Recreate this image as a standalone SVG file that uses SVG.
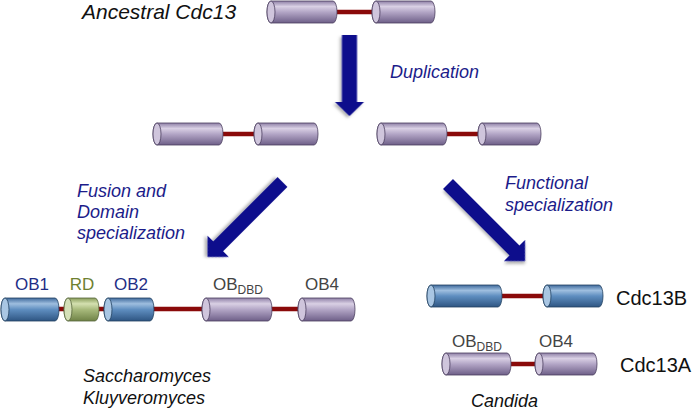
<svg xmlns="http://www.w3.org/2000/svg" width="693" height="411" viewBox="0 0 693 411">
<defs>
<linearGradient id="gP" x1="0" y1="0" x2="0" y2="1">
<stop offset="0" stop-color="#8E7FA6"/><stop offset="0.25" stop-color="#D9D0E4"/><stop offset="0.5" stop-color="#B3A6C6"/><stop offset="1" stop-color="#6E5F88"/>
</linearGradient>
<linearGradient id="gB" x1="0" y1="0" x2="0" y2="1">
<stop offset="0" stop-color="#3F6A9C"/><stop offset="0.25" stop-color="#9EBEDF"/><stop offset="0.5" stop-color="#5F8EC0"/><stop offset="1" stop-color="#2E5582"/>
</linearGradient>
<linearGradient id="gG" x1="0" y1="0" x2="0" y2="1">
<stop offset="0" stop-color="#889C5A"/><stop offset="0.25" stop-color="#D4E0B0"/><stop offset="0.5" stop-color="#A8BA7C"/><stop offset="1" stop-color="#6F8246"/>
</linearGradient>
<filter id="sh" x="-20%" y="-20%" width="140%" height="140%"><feDropShadow dx="2" dy="2" stdDeviation="1.5" flood-color="#000" flood-opacity="0.3"/></filter>
</defs>
<style>
.p{fill:url(#gP);stroke:#4A3E5E;stroke-width:0.8}
.pc{fill:#CFC5DC;stroke:#4A3E5E;stroke-width:0.8}
.b{fill:url(#gB);stroke:#21405F;stroke-width:0.8}
.bc{fill:#A9C6E3;stroke:#21405F;stroke-width:0.8}
.g{fill:url(#gG);stroke:#55653A;stroke-width:0.8}
.gc{fill:#D5E0B8;stroke:#55653A;stroke-width:0.8}
.lk{stroke:#8A0A0A;stroke-width:4.5;fill:none}
.ar{fill:#0A0A8C;filter:url(#sh)}
.it{font-family:"Liberation Sans",Arial,sans-serif;font-style:italic;font-size:18px}
.big{font-size:21px}
.nv{fill:#1C1C8A}
.k{fill:#111}
.lb{font-family:"Liberation Sans",Arial,sans-serif;font-size:17px}
.sub{font-size:12px}
.ob{fill:#1F2E86}
.rd{fill:#6E8030}
.gy{fill:#444}
.cd{font-family:"Liberation Sans",Arial,sans-serif;font-size:20px;fill:#111}
</style>

<g id="ancestral">
<line class="lk" x1="337" y1="12" x2="372" y2="12"/>
<path class="p" d="M271,1 H333 A4,11 0 0 1 333,23 H271 A4,11 0 0 1 271,1 Z"/><ellipse class="pc" cx="271" cy="12" rx="4" ry="11"/>
<path class="p" d="M376,1 H431 A4,11 0 0 1 431,23 H376 A4,11 0 0 1 376,1 Z"/><ellipse class="pc" cx="376" cy="12" rx="4" ry="11"/>
</g>

<g id="dup-left">
<line class="lk" x1="223" y1="134" x2="254" y2="134"/>
<path class="p" d="M157,123 H219 A4,11 0 0 1 219,145 H157 A4,11 0 0 1 157,123 Z"/><ellipse class="pc" cx="157" cy="134" rx="4" ry="11"/>
<path class="p" d="M258,123 H314 A4,11 0 0 1 314,145 H258 A4,11 0 0 1 258,123 Z"/><ellipse class="pc" cx="258" cy="134" rx="4" ry="11"/>
</g>

<g id="dup-right">
<line class="lk" x1="447" y1="134" x2="478" y2="134"/>
<path class="p" d="M381,123 H443 A4,11 0 0 1 443,145 H381 A4,11 0 0 1 381,123 Z"/><ellipse class="pc" cx="381" cy="134" rx="4" ry="11"/>
<path class="p" d="M482,123 H537 A4,11 0 0 1 537,145 H482 A4,11 0 0 1 482,123 Z"/><ellipse class="pc" cx="482" cy="134" rx="4" ry="11"/>
</g>

<g id="fused">
<line class="lk" x1="55" y1="309" x2="302" y2="309"/>
<path class="b" d="M5,298 H55 A4,11.5 0 0 1 55,321 H5 A4,11.5 0 0 1 5,298 Z"/><ellipse class="bc" cx="5" cy="309.5" rx="4" ry="11.5"/>
<path class="g" d="M68,298 H95 A4,11.5 0 0 1 95,321 H68 A4,11.5 0 0 1 68,298 Z"/><ellipse class="gc" cx="68" cy="309.5" rx="4" ry="11.5"/>
<path class="b" d="M108,298 H150 A4,11.5 0 0 1 150,321 H108 A4,11.5 0 0 1 108,298 Z"/><ellipse class="bc" cx="108" cy="309.5" rx="4" ry="11.5"/>
<path class="p" d="M206,298 H268 A4,11.5 0 0 1 268,321 H206 A4,11.5 0 0 1 206,298 Z"/><ellipse class="pc" cx="206" cy="309.5" rx="4" ry="11.5"/>
<path class="p" d="M302,298 H351 A4,11.5 0 0 1 351,321 H302 A4,11.5 0 0 1 302,298 Z"/><ellipse class="pc" cx="302" cy="309.5" rx="4" ry="11.5"/>
<text class="lb ob" x="32" y="290" text-anchor="middle">OB1</text>
<text class="lb rd" x="82" y="290" text-anchor="middle">RD</text>
<text class="lb ob" x="131" y="290" text-anchor="middle">OB2</text>
<text class="lb gy" x="213" y="290">OB<tspan class="sub" dy="4">DBD</tspan></text>
<text class="lb gy" x="322" y="290" text-anchor="middle">OB4</text>
</g>

<g id="cdc13b">
<line class="lk" x1="502" y1="296" x2="543" y2="296"/>
<path class="b" d="M431,285 H498 A4,11 0 0 1 498,307 H431 A4,11 0 0 1 431,285 Z"/><ellipse class="bc" cx="431" cy="296" rx="4" ry="11"/>
<path class="b" d="M547,285 H599 A4,11 0 0 1 599,307 H547 A4,11 0 0 1 547,285 Z"/><ellipse class="bc" cx="547" cy="296" rx="4" ry="11"/>
<text class="cd" x="616" y="305">Cdc13B</text>
</g>

<g id="cdc13a">
<line class="lk" x1="511" y1="364" x2="535" y2="364"/>
<path class="p" d="M446,353 H507 A4,11 0 0 1 507,375 H446 A4,11 0 0 1 446,353 Z"/><ellipse class="pc" cx="446" cy="364" rx="4" ry="11"/>
<path class="p" d="M539,353 H593 A4,11 0 0 1 593,375 H539 A4,11 0 0 1 539,353 Z"/><ellipse class="pc" cx="539" cy="364" rx="4" ry="11"/>
<text class="lb gy" x="452" y="347">OB<tspan class="sub" dy="4">DBD</tspan></text>
<text class="lb gy" x="556" y="347" text-anchor="middle">OB4</text>
<text class="cd" x="620" y="372">Cdc13A</text>
</g>

<g id="connectors">
<polygon class="ar" transform="translate(349.5,35) rotate(90)" points="0,-7.5 67,-7.5 67,-14.5 81,0 67,14.5 67,7.5 0,7.5"/>
<polygon class="ar" transform="translate(282.5,182) rotate(135)" points="0,-7 91,-7 91,-15 106,0 91,15 91,7 0,7"/>
<polygon class="ar" transform="translate(448,184) rotate(45)" points="0,-7 94,-7 94,-15 109,0 94,15 94,7 0,7"/>
</g>

<g id="labels">
<text class="it big k" x="82" y="19">Ancestral Cdc13</text>
<text class="it nv" x="390" y="78">Duplication</text>
<text class="it nv" x="77" y="197">Fusion and</text>
<text class="it nv" x="77" y="218">Domain</text>
<text class="it nv" x="77" y="239">specialization</text>
<text class="it nv" x="505" y="189">Functional</text>
<text class="it nv" x="505" y="211">specialization</text>
<text class="it k" x="83" y="382">Saccharomyces</text>
<text class="it k" x="83" y="404">Kluyveromyces</text>
<text class="it k" x="471" y="407">Candida</text>
</g>
</svg>
